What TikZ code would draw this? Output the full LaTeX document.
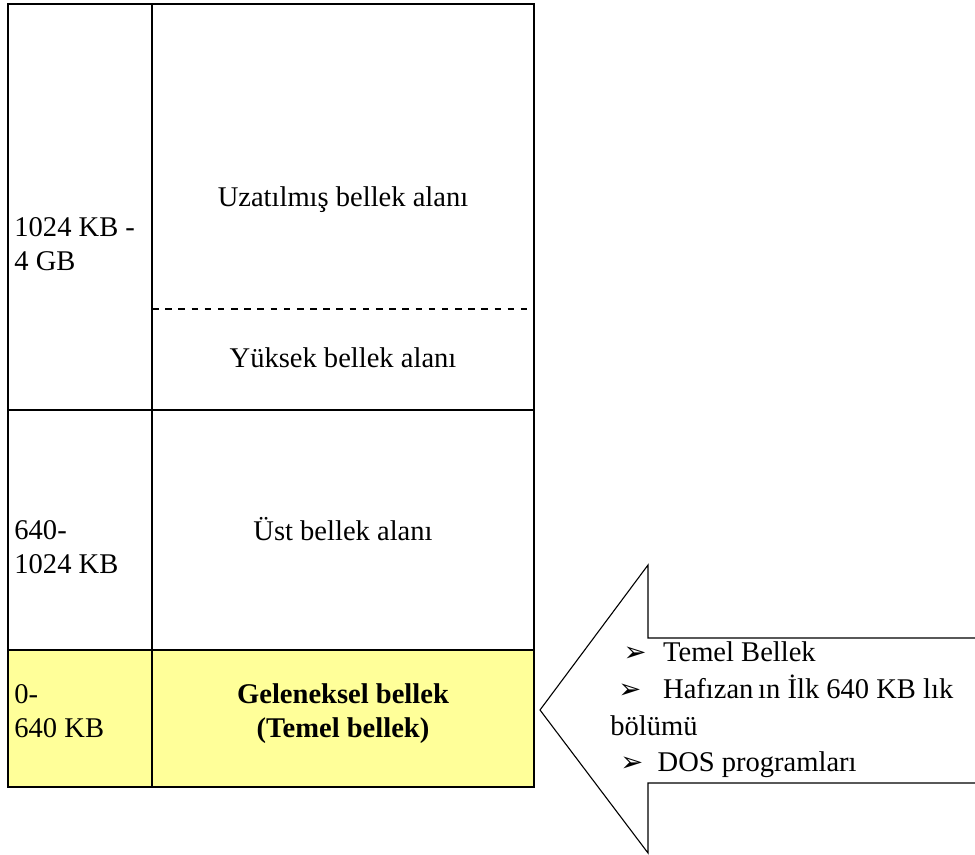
\documentclass[tikz,border=0pt]{standalone}
\usepackage{fontspec}
\setmainfont{Liberation Serif}
\newfontfamily\symfont{DejaVu Sans}
\usetikzlibrary{positioning}
\definecolor{BaseYellow}{HTML}{FFFF99}
\newcommand{\memfont}{\fontsize{13}{15.5}\selectfont}
\newcommand{\tipmark}{{\symfont\fontsize{12.5}{12.5}\selectfont ➢}}

\begin{document}
\begin{tikzpicture}[x=0.016cm,y=-0.016cm,
  rule/.style={line width=0.9pt},
  rangelbl/.style={font=\memfont,align=left,anchor=base west,inner sep=0pt},
  arealbl/.style={font=\memfont,align=center,anchor=base,inner sep=0pt},
  tipnote/.style={font=\fontsize{13}{16.8}\selectfont,align=left,anchor=base west,inner sep=0pt}
]
  \useasboundingbox (0,0) rectangle (975,855);
  \clip (0,0) rectangle (975,855);

  % memory map
  \fill[BaseYellow] (8,650) rectangle (534,787);
  \draw[rule] (8,4) rectangle (534,787);
  \draw[rule] (152,4) -- (152,787);
  \draw[rule] (8,410) -- (534,410);
  \draw[rule] (8,650) -- (534,650);
  \draw[dashed,line width=0.6pt] (152,309) -- (534,309);

  \node[rangelbl] (ext)  at (14,271) {1024 KB -\\4 GB};
  \node[rangelbl] (upp)  at (14,574) {640-\\1024 KB};
  \node[rangelbl] (conv) at (14,738) {0-\\640 KB};

  \node[arealbl] (xms)  at (343,207) {Uzatılmış bellek alanı};
  \node[arealbl] (hma)  at (343,368) {Yüksek bellek alanı};
  \node[arealbl] (umb)  at (343,541) {Üst bellek alanı};
  \node[arealbl,font=\memfont\bfseries] (base) at (343,738)
       {Geleneksel bellek\\(Temel bellek)};

  % big arrow
  \coordinate (tip) at (540,710);
  \draw[line width=0.5pt,fill=white] (tip) -- (648,565) -- (648,638) -- (990,638)
       -- (990,783) -- (648,783) -- (648,853) -- cycle;

  \node[tipnote] (notes) at (610,772)
       {\hspace{6pt}\makebox[18pt][l]{\tipmark}Temel Bellek\\
        \hspace{3.6pt}\makebox[20.4pt][l]{\tipmark}Hafızan\,ın İlk 640 KB lık\\
        bölümü\\
        \hspace{4.5pt}\makebox[17pt][l]{\tipmark}DOS programları};
\end{tikzpicture}
\end{document}
